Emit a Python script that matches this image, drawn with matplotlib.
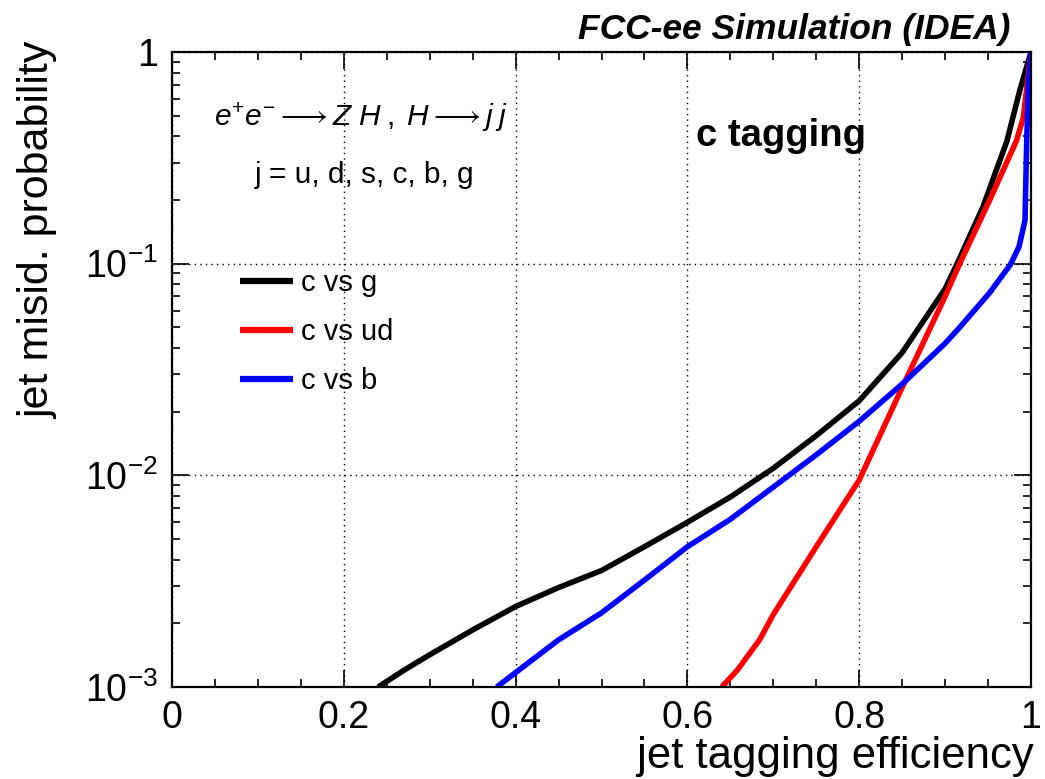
import matplotlib
matplotlib.use("Agg")
import matplotlib.pyplot as plt
from matplotlib.ticker import FixedLocator, FixedFormatter, MultipleLocator, LogLocator, NullFormatter

plt.rcParams['font.family'] = ['Liberation Sans', 'DejaVu Sans']
plt.rcParams['mathtext.fontset'] = 'custom'
plt.rcParams['mathtext.rm'] = 'Liberation Sans'
plt.rcParams['mathtext.it'] = 'Liberation Sans:italic'
plt.rcParams['mathtext.bf'] = 'Liberation Sans:bold'

# c vs g
eff_g = [0.24, 0.27, 0.30, 0.35, 0.40, 0.45, 0.50, 0.55, 0.60, 0.65, 0.70, 0.75, 0.80, 0.85, 0.90, 0.914, 0.944, 0.972, 0.987, 1.0]
mis_g = [1.0e-3, 1.2e-3, 1.42e-3, 1.86e-3, 2.4e-3, 2.95e-3, 3.55e-3, 4.6e-3, 6.0e-3, 7.9e-3, 1.08e-2, 1.54e-2, 2.25e-2, 3.8e-2, 7.6e-2, 0.1, 0.185, 0.38, 0.66, 1.0]
# c vs ud
eff_ud = [0.64, 0.658, 0.684, 0.70, 0.75, 0.80, 0.85, 0.90, 0.917, 0.952, 0.983, 0.991, 1.0]
mis_ud = [1.0e-3, 1.2e-3, 1.67e-3, 2.2e-3, 4.6e-3, 9.5e-3, 2.6e-2, 7.0e-2, 0.1, 0.2, 0.38, 0.49, 1.0]
# c vs b
eff_b = [0.378, 0.40, 0.45, 0.50, 0.55, 0.60, 0.65, 0.70, 0.75, 0.80, 0.85, 0.90, 0.917, 0.952, 0.976, 0.986, 0.993, 0.995, 0.997, 1.0]
mis_b = [1.0e-3, 1.17e-3, 1.67e-3, 2.24e-3, 3.2e-3, 4.6e-3, 6.2e-3, 8.8e-3, 1.25e-2, 1.8e-2, 2.7e-2, 4.2e-2, 5.0e-2, 7.3e-2, 9.9e-2, 0.12, 0.16, 0.38, 0.7, 1.0]

labels = ["c vs g", "c vs ud", "c vs b"]
colors = ["black", "red", "blue"]

xticks = [0, 0.2, 0.4, 0.6, 0.8, 1.0]
xticklabels = ["0", "0.2", "0.4", "0.6", "0.8", "1"]
yticks = [1e-3, 1e-2, 1e-1, 1.0]
yticklabels = [r"$10^{-3}$", r"$10^{-2}$", r"$10^{-1}$", "1"]

W, H = 1045, 779
fig = plt.figure(figsize=(W/100, H/100), dpi=100)
ax = fig.add_axes([172/W, 1-687/H, (1031-172)/W, (687-52)/H])

for ex, my, lab, c in zip([eff_g, eff_ud, eff_b], [mis_g, mis_ud, mis_b], labels, colors):
    ax.plot(ex, my, color=c, lw=4.0, label=lab, solid_capstyle='butt', solid_joinstyle='round')

ax.set_yscale('log')
ax.set_xlim(0, 1)
ax.set_ylim(1e-3, 1)

ax.xaxis.set_major_locator(FixedLocator(xticks))
ax.xaxis.set_major_formatter(FixedFormatter(xticklabels))
ax.xaxis.set_minor_locator(MultipleLocator(0.05))
ax.yaxis.set_major_locator(FixedLocator(yticks))
ax.yaxis.set_major_formatter(FixedFormatter(yticklabels))
ax.yaxis.set_minor_locator(LogLocator(base=10, subs=range(2, 10)))
ax.yaxis.set_minor_formatter(NullFormatter())

ax.tick_params(which='both', direction='in', top=True, right=True, width=1.2)
ax.tick_params(which='major', length=12, labelsize=27)
ax.tick_params(axis='x', which='major', pad=9)
ax.tick_params(axis='y', which='major', pad=10)
ax.tick_params(which='minor', length=6)
for s in ax.spines.values():
    s.set_linewidth(1.6)

ax.grid(True, which='major', color='black', linestyle=(0, (1, 3)), lw=1.0)

fig.text(1034/W, 1-768/H, "jet tagging efficiency", fontsize=31.5, ha='right', va='baseline')
fig.text(38/W, 1-42/H, "jet misid. probability", fontsize=31, rotation=90,
         ha='center', va='top')

fig.text(1010/W, 1-29/H, "FCC-ee Simulation (IDEA)", fontsize=25.5, fontweight='bold',
         fontstyle='italic', ha='right', va='center')
fig.text(361/W, 1-117/H, r"$e^{+}e^{-}\longrightarrow Z\;H\;,\;H\longrightarrow j\;j$", fontsize=21.5,
         ha='center', va='center')
fig.text(365/W, 1-175/H, "j = u, d, s, c, b, g", fontsize=21.5, ha='center', va='center')
fig.text(781/W, 1-136/H, "c tagging", fontsize=27.5, fontweight='bold', ha='center', va='center')

leg = ax.legend(loc='upper left', bbox_to_anchor=((240-172)/859, (687-269)/635), frameon=False,
                fontsize=21, handlelength=1.8, handletextpad=0.3, labelspacing=0.72,
                borderaxespad=0, borderpad=0)
for l in leg.get_lines():
    l.set_linewidth(4.5)

fig.savefig("out.png", dpi=100)
